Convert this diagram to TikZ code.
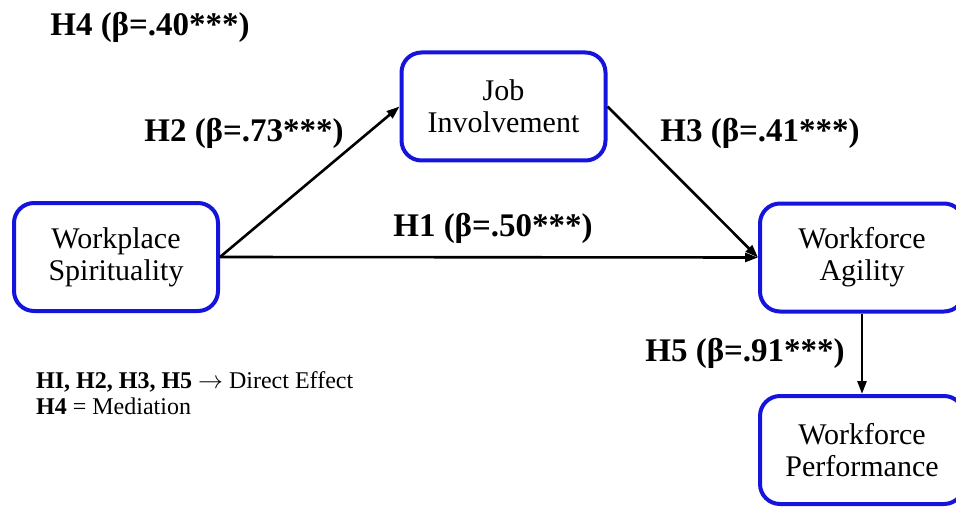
\documentclass[tikz,border=0pt]{standalone}
\usepackage{fontspec}
\setmainfont{Liberation Serif}
\usetikzlibrary{arrows.meta}
\definecolor{boxblue}{RGB}{20,20,220}
\tikzset{
  box/.style={draw=boxblue, line width=4pt, rounded corners=20pt, fill=white,
    minimum width=204pt, minimum height=108pt, align=center, inner sep=0pt,
    font=\fontsize{30}{32}\selectfont},
  conn/.style={line width=2.6pt, -{Triangle[length=13pt,width=9pt]}},
  hlab/.style={font=\fontsize{33}{36}\selectfont\bfseries, inner sep=0pt},
  legend/.style={font=\fontsize{24}{26}\selectfont, anchor=base west, inner sep=0pt}
}
\begin{document}
\begin{tikzpicture}[x=1pt,y=-1pt]
\useasboundingbox (0,0) rectangle (956,508);
\node[box] (ws) at (116,257) {Workplace\\Spirituality};
\node[box] (ji) at (503.5,106.5) {Job\\Involvement};
\node[box] (wa) at (862,257.5) {Workforce\\Agility};
\node[box] (wp) at (862,450) {Workforce\\Performance};
\draw[conn] (ws.east) -- (wa.west);
\draw[conn] (ws.east) -- (ji.west);
\draw[conn] (ji.east) -- (wa.west);
\draw[conn] (wa.south) -- (wp.north);
\node[hlab] (h4) at (150,27) {H4 (β=.40***)};
\node[hlab] (h2) at (244,133) {H2 (β=.73***)};
\node[hlab] (h3) at (760,133) {H3 (β=.41***)};
\node[hlab] (h1) at (493,228) {H1 (β=.50***)};
\node[hlab] (h5) at (745,353) {H5 (β=.91***)};
\node[legend] (l1) at (36,388) {\textbf{HI, H2, H3, H5} $\rightarrow$ Direct Effect};
\node[legend] (l2) at (36,414) {\textbf{H4} = Mediation};
\end{tikzpicture}
\end{document}
